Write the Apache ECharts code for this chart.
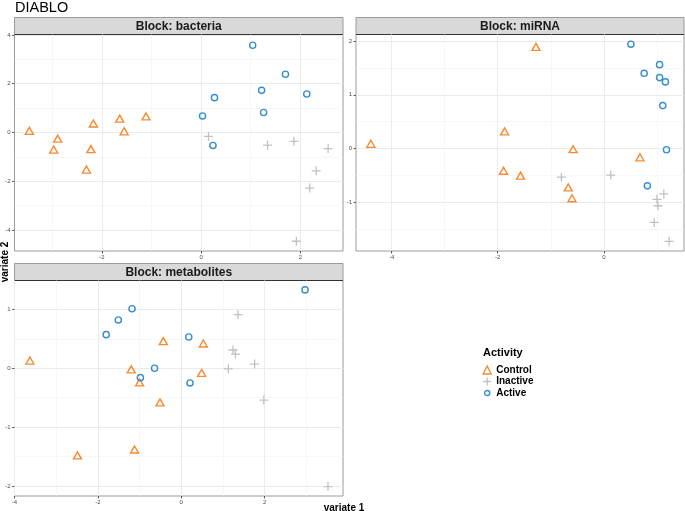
<!DOCTYPE html>
<html><head><meta charset="utf-8">
<script src="https://cdn.jsdelivr.net/npm/echarts@6/dist/echarts.min.js"></script>
<style>html,body{margin:0;padding:0;background:#fff}#c{width:685px;height:511px}</style>
</head><body><div id="c"></div>
<script>
// ---- data ----
const groups = ['Control', 'Inactive', 'Active'];
const blocks = ['bacteria', 'miRNA', 'metabolites'];

const bacteriaControl = [[-3.46,0.07],[-2.89,-0.25],[-2.97,-0.70],[-2.17,0.37],[-2.22,-0.68],[-2.31,-1.52],[-1.64,0.57],[-1.55,0.05],[-1.11,0.66]];
const bacteriaInactive = [[0.15,-0.16],[1.34,-0.52],[1.87,-0.36],[2.56,-0.66],[2.32,-1.57],[2.19,-2.28],[1.92,-4.46]];
const bacteriaActive = [[1.04,3.58],[1.70,2.39],[1.22,1.73],[2.13,1.58],[0.27,1.43],[1.26,0.82],[0.03,0.68],[0.24,-0.53]];

const mirnaControl = [[-4.39,0.09],[-1.28,1.89],[-1.87,0.32],[-0.58,-0.01],[0.68,-0.16],[-1.89,-0.41],[-1.57,-0.50],[-0.67,-0.72],[-0.60,-0.92]];
const mirnaInactive = [[-0.80,-0.53],[0.13,-0.49],[1.13,-0.84],[1.00,-0.94],[1.02,-1.06],[0.95,-1.37],[1.23,-1.72]];
const mirnaActive = [[0.51,1.94],[1.05,1.56],[0.76,1.40],[1.05,1.32],[1.16,1.24],[1.11,0.80],[1.18,-0.02],[0.82,-0.69]];

const metabControl = [[-3.63,0.13],[-0.43,0.46],[0.53,0.42],[-1.20,-0.02],[0.49,-0.08],[-1.00,-0.24],[-0.51,-0.58],[-2.49,-1.48],[-1.12,-1.38]];
const metabInactive = [[1.36,0.91],[1.24,0.31],[1.30,0.24],[1.13,-0.01],[1.76,0.07],[1.98,-0.54],[3.52,-2.01]];
const metabActive = [[2.97,1.33],[-1.18,1.01],[-1.51,0.82],[-1.80,0.57],[0.18,0.53],[-0.64,0.00],[-0.98,-0.16],[0.21,-0.25]];

// tick labels per panel
const bacteriaXTicks = [-2, 0, 2];
const bacteriaYTicks = [-4, -2, 0, 2, 4];
const mirnaXTicks = [-4, -2, 0];
const mirnaYTicks = [-1, 0, 1, 2];
const metabXTicks = [-4, -2, 0, 2];
const metabYTicks = [-2, -1, 0, 1];

const xLimits = [[-3.76, 2.86], [-4.67, 1.51], [-4.0, 3.88]];
const yLimits = [[-4.86, 4.02], [-1.90, 2.12], [-2.17, 1.49]];
const xSteps = [2, 2, 2];
const ySteps = [2, 1, 1];
const xTicks = [bacteriaXTicks, mirnaXTicks, metabXTicks];
const yTicks = [bacteriaYTicks, mirnaYTicks, metabYTicks];

const panelData = [
  [bacteriaControl, bacteriaInactive, bacteriaActive],
  [mirnaControl, mirnaInactive, mirnaActive],
  [metabControl, metabInactive, metabActive]
];

// ---- styles ----
const colors = { Control: '#F68B33', Inactive: '#C2C2C2', Active: '#388ECC' };
const FONT = '"Liberation Sans", Arial, Helvetica, sans-serif';
const crossPath = 'path://M5,0L5,10M0,5L10,5';
const legendCircle = 'path://M0,0M10,10M1.8,5A3.2,3.2 0 1 1 8.2,5A3.2,3.2 0 1 1 1.8,5Z';
const symbolDefs = {
  Control: { symbol: 'triangle', size: [8, 7], bw: 1.4 },
  Inactive: { symbol: crossPath, size: 9, bw: 1.3 },
  Active: { symbol: 'circle', size: 6.2, bw: 1.4 }
};

const grids = [
  { left: 14.5, top: 34.5, width: 328.5, height: 216.5 },
  { left: 356, top: 34.5, width: 328, height: 216.5 },
  { left: 14.5, top: 280.5, width: 328.5, height: 215.5 }
].map(g => Object.assign({ show: true, borderColor: '#9a9a9a', borderWidth: 1, backgroundColor: '#fff', containLabel: false, outerBoundsMode: 'none' }, g));

function axisCfg(gi, lim, step, ticks, isY) {
  return {
    type: 'value', gridIndex: gi, min: lim[0], max: lim[1],
    position: isY ? 'left' : 'bottom',
    minInterval: step, maxInterval: step, splitNumber: 4,
    axisLine: { show: false, onZero: false },
    axisTick: { show: true, length: 2.5, inside: false, customValues: ticks, lineStyle: { color: '#333', width: 0.8 } },
    axisLabel: {
      fontSize: 6, color: '#4d4d4d', fontFamily: FONT, margin: isY ? 4 : 3,
      customValues: ticks, formatter: v => String(v)
    },
    splitLine: { show: true, lineStyle: { color: '#EBEBEB', width: 1 } },
    minorTick: { show: false, splitNumber: 2 },
    minorSplitLine: { show: true, lineStyle: { color: '#F3F3F3', width: 0.7 } }
  };
}

const xAxis = [0, 1, 2].map(i => axisCfg(i, xLimits[i], xSteps[i], xTicks[i], false));
const yAxis = [0, 1, 2].map(i => axisCfg(i, yLimits[i], ySteps[i], yTicks[i], true));

const series = [];
panelData.forEach((arrs, pi) => {
  arrs.forEach((data, gi) => {
    const name = groups[gi];
    const d = symbolDefs[name];
    series.push({
      type: 'scatter', name, xAxisIndex: pi, yAxisIndex: pi,
      data, symbol: d.symbol, symbolSize: d.size,
      itemStyle: { color: 'rgba(0,0,0,0)', borderColor: colors[name], borderWidth: d.bw, opacity: 1 },
      emphasis: { disabled: true }, animation: false
    });
  });
});

// strips
const graphic = [];
grids.forEach((g, i) => {
  const top = g.top - 17;
  graphic.push({ type: 'rect', shape: { x: g.left, y: top, width: g.width, height: 17 },
    style: { fill: '#D9D9D9', stroke: '#9a9a9a', lineWidth: 1 }, silent: true });
  graphic.push({ type: 'line', shape: { x1: g.left, y1: g.top, x2: g.left + g.width, y2: g.top },
    style: { stroke: '#333', lineWidth: 1.2 }, silent: true });
  graphic.push({ type: 'text', x: g.left + g.width / 2, y: top + 9,
    style: { text: 'Block: ' + blocks[i], font: 'bold 12px ' + FONT, fill: '#1a1a1a', textAlign: 'center', textVerticalAlign: 'middle' }, silent: true });
});
graphic.push({ type: 'text', x: 344, y: 508, style: { text: 'variate 1', font: 'bold 10px ' + FONT, fill: '#000', textAlign: 'center', textVerticalAlign: 'middle' } });
graphic.push({ type: 'text', x: 5, y: 262, rotation: Math.PI / 2, style: { text: 'variate 2', font: 'bold 10px ' + FONT, fill: '#000', textAlign: 'center', textVerticalAlign: 'middle' } });
graphic.push({ type: 'text', x: 15, y: 8, style: { text: 'DIABLO', font: '14.5px ' + FONT, fill: '#000', textAlign: 'left', textVerticalAlign: 'middle' } });
graphic.push({ type: 'text', x: 483, y: 353, style: { text: 'Activity', font: 'bold 11px ' + FONT, fill: '#000', textAlign: 'left', textVerticalAlign: 'middle' } });

const chart = echarts.init(document.getElementById('c'), null, { renderer: 'canvas' });
chart.setOption({
  animation: false,
  backgroundColor: '#fff',
  grid: grids, xAxis, yAxis, series, graphic,
  legend: {
    orient: 'vertical', left: 482.5, top: 365, itemWidth: 8, itemHeight: 8, itemGap: 1.5,
    selectedMode: false, padding: 0,
    textStyle: { fontSize: 10, fontWeight: 'bold', color: '#000', fontFamily: FONT },
    data: groups.map(n => ({
      name: n, icon: n === 'Control' ? 'triangle' : (n === 'Inactive' ? crossPath : legendCircle),
      itemStyle: { color: 'rgba(0,0,0,0)', borderColor: colors[n], borderWidth: symbolDefs[n].bw }
    }))
  }
});
</script></body></html>
